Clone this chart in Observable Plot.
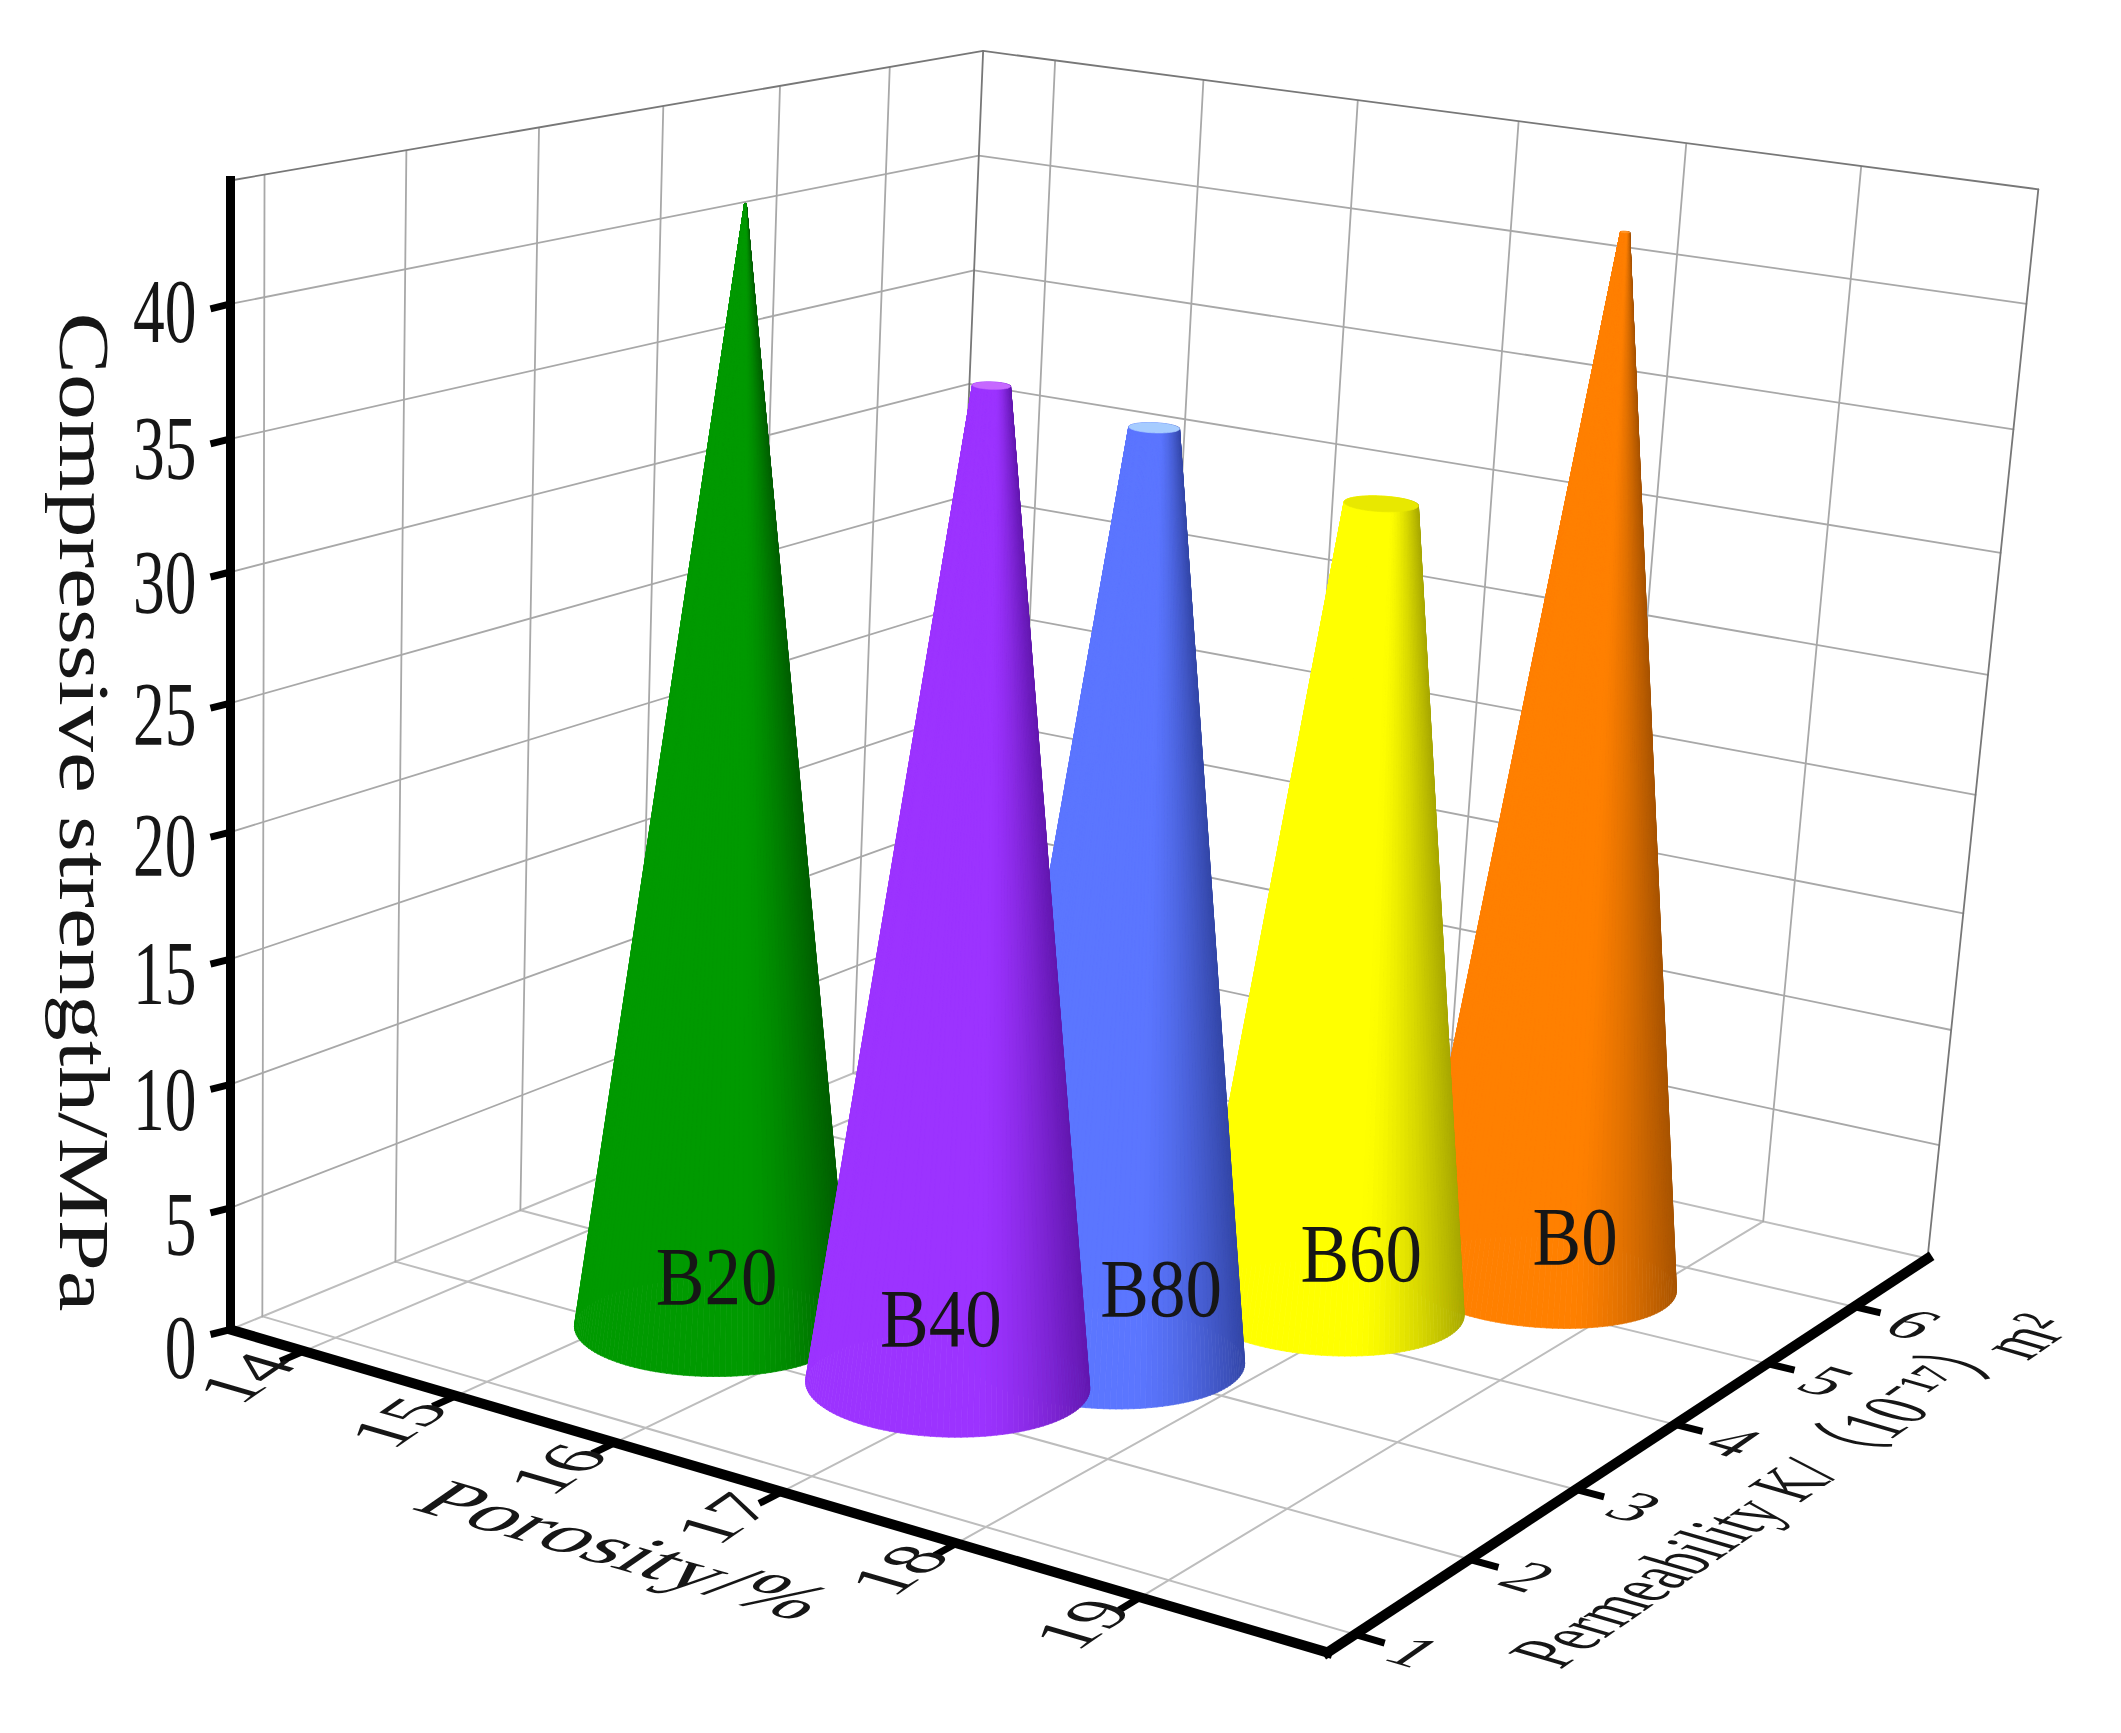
<!DOCTYPE html>
<html>
<head>
<meta charset="utf-8">
<style>html,body{margin:0;padding:0;background:#fff}</style>
<script src="https://cdn.jsdelivr.net/npm/d3@7"></script>
<script src="https://cdn.jsdelivr.net/npm/@observablehq/plot@0.6"></script>
</head>
<body>
<div id="chart"></div>
<script>
// ---- data ----
const names = ["B0", "B60", "B20", "B80", "B40"];
const porosity = [18.48, 17.78, 15.415, 17.25, 16.83];
const permeability = [5.358, 4.356, 2.253, 3.085, 2.326];
const strength = [42.9, 32.8, 44.05, 36.7, 38.7];
const baseColors = ["#ff8000", "#ffff00", "#009a00", "#5b76ff", "#9c33ff"];
const darkColors = ["#a85400", "#a8a800", "#005f00", "#3447a8", "#6318b0"];
const capColors = ["#ff9a30", "#e8e800", "#00a000", "#a6ccff", "#c668ff"];
const labelDx = [25, 25, 3, 42, -5];
const labelDy = [-43, -52, -49, -67, -64];
const porosityTicks = [14, 15, 16, 17, 18, 19];
const permeabilityTicks = [1, 2, 3, 4, 5, 6];
const strengthTicks = [0, 5, 10, 15, 20, 25, 30, 35, 40];
const porosityDomain = [13.5, 19.97];
const permeabilityDomain = [0.77, 6.9];
const strengthMax = 44.5;
const apexStrength = 44.3;
const baseRadius = 0.11;
const serif = "'Liberation Serif','Noto Sans CJK SC',serif";

// ---- perspective camera: screen corners of the box ----
const camera = {L0:[230,1329], F0:[1327,1652], R0:[1927,1258], B0:[942,1036], Ltop:[230,180], Rtop:[2036,189]};
const wallTrim = {u:40.6, v:-23};
function buildCamera({L0,F0,R0,B0,Ltop,Rtop}) {
  const [x0,y0]=L0,[x1,y1]=F0,[x2,y2]=R0,[x3,y3]=B0;
  const dx1=x1-x2,dx2=x3-x2,sx=x0-x1+x2-x3,dy1=y1-y2,dy2=y3-y2,sy=y0-y1+y2-y3;
  const den=dx1*dy2-dx2*dy1;
  const g=(sx*dy2-dx2*sy)/den,h=(dx1*sy-sx*dy1)/den;
  const a=x1-x0+g*x1,b=x3-x0+h*x3,c=x0,d=y1-y0+g*y1,e=y3-y0+h*y3,f=y0;
  const cross=(p,q)=>[p[1]*q[2]-p[2]*q[1],p[2]*q[0]-p[0]*q[2],p[0]*q[1]-p[1]*q[0]];
  const l1=cross([...L0,1],[...Ltop,1]),l2=cross([...R0,1],[...Rtop,1]);
  const vp=cross(l1,l2),vx=vp[0]/vp[2],vy=vp[1]/vp[2];
  const k=(Ltop[1]-f)/(vy-Ltop[1]);
  return (u,v,w)=>{
    const W=g*u+h*v+1+k*w;
    return [(a*u+b*v+c+k*vx*w)/W,(d*u+e*v+f+k*vy*w)/W+w*(wallTrim.u*u+wallTrim.v*v)];
  };
}
const cam=buildCamera(camera);
const U=p=>(p-porosityDomain[0])/(porosityDomain[1]-porosityDomain[0]);
const V=k=>(k-permeabilityDomain[0])/(permeabilityDomain[1]-permeabilityDomain[0]);
const proj=(p,k,z)=>cam(U(p),V(k),z/strengthMax);
const pt=(p,k,z,extra)=>{const [x,y]=proj(p,k,z);return {x,y,...extra};};
const [pA,pB]=porosityDomain,[kA,kB]=permeabilityDomain;

// ---- grid ----
let gid=0;
const seg=(arr,a,b)=>{gid++;arr.push(pt(...a,{id:gid}),pt(...b,{id:gid}));};
const floorGrid=[],wallGrid=[],edges=[];
for(const p of porosityTicks){seg(floorGrid,[p,kA,0],[p,kB,0]);seg(wallGrid,[p,kB,0],[p,kB,strengthMax]);}
for(const k of permeabilityTicks){seg(floorGrid,[pA,k,0],[pB,k,0]);seg(wallGrid,[pA,k,0],[pA,k,strengthMax]);}
for(const z of strengthTicks.slice(1)){seg(wallGrid,[pA,kA,z],[pA,kB,z]);seg(wallGrid,[pA,kB,z],[pB,kB,z]);}
seg(floorGrid,[pA,kA,0],[pA,kB,0]);seg(floorGrid,[pA,kB,0],[pB,kB,0]);
seg(edges,[pA,kA,strengthMax],[pA,kB,strengthMax]);
seg(edges,[pA,kB,strengthMax],[pB,kB,strengthMax]);
seg(edges,[pB,kB,0],[pB,kB,strengthMax]);
seg(edges,[pA,kB,0],[pA,kB,strengthMax]);

// ---- axes ----
const axisZ=[],axesFloor=[],ticks=[];
seg(axisZ,[pA,kA,0],[pA,kA,strengthMax]);
seg(axesFloor,[pA,kA,0],[pB,kA,0]);
seg(axesFloor,[pB,kA,0],[pB,kB,0]);
for(const p of porosityTicks) seg(ticks,[p,kA,0],[p,kA-0.17,0]);
for(const k of permeabilityTicks) seg(ticks,[pB,k,0],[pB+0.15,k,0]);
for(const z of strengthTicks){
  gid++;const [x,y]=proj(pA,kA,z);
  ticks.push({x,y,id:gid},{x:x-20,y:y+5,id:gid});
}

// ---- cones as shaded strips ----
const nStrip=150;
const strips=[];let sid=0;
const order=d3.range(names.length);
for(const i of order){
  const U0=U(porosity[i]),V0=V(permeability[i]),z=strength[i];
  const topR=baseRadius*Math.max(0,1-z/apexStrength);
  const ring=(r,w,j)=>{const t=j/nStrip*2*Math.PI;return cam(U0+r*Math.cos(t),V0+r*Math.sin(t),w);};
  const w=z/strengthMax;
  const xs=d3.range(nStrip).map(j=>ring(baseRadius,0,j)[0]);
  const xMin=d3.min(xs),xMax=d3.max(xs);
  const shade=d3.interpolateRgb(baseColors[i],darkColors[i]);
  const rows=[];
  for(let j=0;j<nStrip;j++){
    const b0=ring(baseRadius,0,j),b1=ring(baseRadius,0,j+1),t0=ring(topR,w,j),t1=ring(topR,w,j+1);
    const tx=((b0[0]+b1[0])/2-xMin)/(xMax-xMin);
    const color=shade(Math.pow(Math.max(0,(tx-0.6)/0.4),1.5));
    rows.push({depth:b0[1]+b1[1],poly:[b0,t0,t1,b1,b0],color});
  }
  rows.sort((a,b)=>a.depth-b.depth);
  for(const r of rows){sid++;for(const q of r.poly)strips.push({x:q[0],y:q[1],id:sid,color:r.color});}
  sid++;
  if(topR>0.0005) for(let j=0;j<=nStrip;j++){const q=ring(topR,w,j);strips.push({x:q[0],y:q[1],id:sid,color:capColors[i]});}
}

// ---- text (glyphs lie in the projected planes, so each has a matrix) ----
function skewText(rows,options){
  return Plot.text(rows,{x:"x",y:"y",text:"label",fontFamily:serif,fill:"#161616",stroke:"none",lineAnchor:"middle",...options,
    render(index,scales,values,dims,ctx,next){
      const g=next(index,scales,values,dims,ctx);
      d3.select(g).selectAll("text").each(function(i){
        this.setAttribute("transform",(this.getAttribute("transform")||"")+` matrix(${rows[i].m.join(" ")} 0 0)`);
      });
      return g;
    }});
}
const dirU=[0.96,0.28],dirV=[0.82,-0.57];
const frameA=(sx,sy)=>[dirU[0]*sx,dirU[1]*sx,-dirV[0]*sy,-dirV[1]*sy]; // baseline along porosity axis
const frameB=(sx,sy)=>[dirV[0]*sx,dirV[1]*sx,dirU[0]*sy,dirU[1]*sy];   // baseline along permeability axis
const off=(xy,dx,dy)=>({x:xy[0]+dx,y:xy[1]+dy});

const zLabels=strengthTicks.map(z=>({...off(proj(pA,kA,z),-34,19-10*z/40),label:String(z),m:[0.69,0,0,1]}));
const pLabels=porosityTicks.map(p=>({...off(proj(p,kA,0),-57,27),label:String(p),m:frameB(0.74,0.76)}));
const kLabels=permeabilityTicks.map(k=>({...off(proj(pB,k,0),58,18),label:String(k),m:frameA(0.7,0.62)}));
const zTitle=[{...off(proj(pA,kA,20),-148,-20),label:"Compressive strength/MPa",m:[0,1,-0.78,0]}];
const pTitle=[{...off(proj(16.5,kA,0),-74,84),label:"Porosity/%",m:frameA(0.91,0.76)}];
const kTitle=[
  {...off(proj(pB,3.5,0),139,45),label:"Permeability K/（10⁻¹⁷）",m:frameB(0.545,0.85)},
  {...off(proj(pB,3.5,0),400,-120),label:"m²",m:frameB(0.56,0.85)}
];
const coneLabels=names.map((n,i)=>{
  const c=proj(porosity[i],permeability[i],0);
  return {...off(c,labelDx[i]*1.35,labelDy[i]),label:n,m:[0.89,0,0,1]};
});

const chart=Plot.plot({
  width:2121,height:1733,margin:0,
  x:{domain:[0,2121],range:[0,2121],axis:null},
  y:{domain:[0,1733],range:[0,1733],axis:null},
  color:{type:"identity"},
  style:{background:"#fff"},
  marks:[
    Plot.line(floorGrid,{x:"x",y:"y",z:"id",stroke:"#bdbdbd",strokeWidth:2}),
    Plot.line(wallGrid,{x:"x",y:"y",z:"id",stroke:"#a8a8a8",strokeWidth:1.8}),
    Plot.line(edges,{x:"x",y:"y",z:"id",stroke:"#777",strokeWidth:1.8}),
    Plot.line(strips,{x:"x",y:"y",z:"id",fill:"color",stroke:"color",strokeWidth:0.7}),
    Plot.line(ticks,{x:"x",y:"y",z:"id",stroke:"#000",strokeWidth:7,strokeLinecap:"butt"}),
    Plot.line(axisZ,{x:"x",y:"y",z:"id",stroke:"#000",strokeWidth:9,strokeLinecap:"square"}),
    Plot.line(axesFloor,{x:"x",y:"y",z:"id",stroke:"#000",strokeWidth:10,strokeLinecap:"square"}),
    skewText(zLabels,{fontSize:92,textAnchor:"end"}),
    skewText(pLabels,{fontSize:100,textAnchor:"middle"}),
    skewText(kLabels,{fontSize:100,textAnchor:"middle"}),
    skewText(zTitle,{fontSize:92,textAnchor:"middle"}),
    skewText(pTitle,{fontSize:100,textAnchor:"middle"}),
    skewText(kTitle,{fontSize:100,textAnchor:"middle"}),
    skewText(coneLabels,{fontSize:82,textAnchor:"middle"})
  ]
});
document.getElementById("chart").appendChild(chart);
</script>
</body>
</html>
